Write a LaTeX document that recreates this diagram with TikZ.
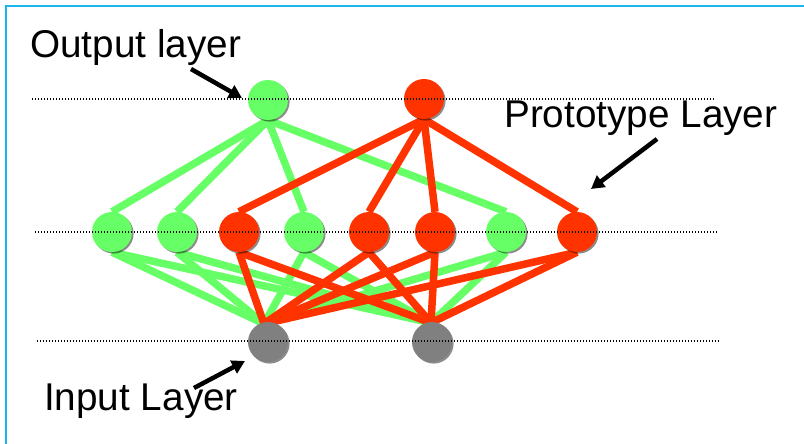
\documentclass[tikz,border=0pt]{standalone}
\usepackage{fontspec}
\setmainfont{Liberation Sans}
\usetikzlibrary{arrows.meta,shadows}
\definecolor{ngreen}{HTML}{66FF66}
\definecolor{nred}{HTML}{FF3300}
\definecolor{ngrey}{HTML}{808080}
\definecolor{frameblue}{HTML}{1AB4F0}
\pgfdeclarelayer{edges}
\pgfsetlayers{edges,main}
\begin{document}
\begin{tikzpicture}[x=1pt,y=-1pt,
  unit/.style={circle, minimum size=40pt, inner sep=0pt, draw=none,
    general shadow={shadow xshift=1.6pt, shadow yshift=-1.6pt, fill=black, opacity=0.45}},
  gnode/.style={unit, fill=ngreen},
  rnode/.style={unit, fill=nred},
  inode/.style={unit, fill=ngrey},
  gedge/.style={ngreen, line width=7.5pt},
  redge/.style={nred, line width=7.5pt},
  guide/.style={black, line width=1.1pt, dash pattern=on 1.1pt off 1.9pt},
  pointer/.style={black, line width=4.5pt, -{Triangle[length=13pt,width=14pt]}},
  lbl/.style={font=\fontsize{38.7}{44}\selectfont, anchor=base west, inner sep=0pt},
]
\useasboundingbox (0,0) rectangle (804,444);

% nodes
\node[gnode] (o1) at (268,100) {};
\node[rnode] (o2) at (424,99) {};
\node[gnode] (h1) at (112,232) {};
\node[gnode] (h2) at (177,232) {};
\node[rnode] (h3) at (239,232) {};
\node[gnode] (h4) at (304,232) {};
\node[rnode] (h5) at (369,232) {};
\node[rnode] (h6) at (435,232) {};
\node[gnode] (h7) at (506,232) {};
\node[rnode] (h8) at (577,232) {};
\node[inode] (i1) at (268,342) {};
\node[inode] (i2) at (432,342) {};
\coordinate (c1) at ([xshift=-4pt,yshift=-2pt]i1.north);
\coordinate (c2) at ([xshift=-1pt,yshift=-1pt]i2.north);

% background, frame and edges
\begin{pgfonlayer}{edges}
  \begin{scope}
  \clip (0,0) rectangle (804,444);
  \fill[white] (0,0) rectangle (804,444);
  \draw[frameblue, line width=2pt] (6,6) rectangle (900,520);
  \end{scope}
  \foreach \h in {h1,h2,h4,h7} {
    \draw[gedge] (o1.south) -- (\h.north);
    \draw[gedge] (\h.south) -- (c1);
    \draw[gedge] (\h.south) -- (c2);
  }
  \foreach \h in {h3,h5,h6,h8} {
    \draw[redge] (o2.south) -- (\h.north);
    \draw[redge] (\h.south) -- (c1);
    \draw[redge] (\h.south) -- (c2);
  }
\end{pgfonlayer}

% dotted guide lines
\draw[guide] (32,99) -- (715,99);
\draw[guide] (35,232) -- (718,232);
\draw[guide] (37,341) -- (720,341);

% labels
\node[lbl] (tout) at (30,58) {Output layer};
\node[lbl] (tproto) at (504,128) {Prototype Layer};
\node[lbl] (tin) at (44,410) {Input Layer};

% pointers
\coordinate (a1s) at (191,69);
\coordinate (a1e) at (242,98);
\coordinate (a2s) at (657,139);
\coordinate (a2e) at (591,189);
\coordinate (a3s) at (194,388);
\coordinate (a3e) at (245,361);
\draw[pointer] (a1s) -- (a1e);
\draw[pointer] (a2s) -- (a2e);
\draw[pointer] (a3s) -- (a3e);
\end{tikzpicture}
\end{document}
